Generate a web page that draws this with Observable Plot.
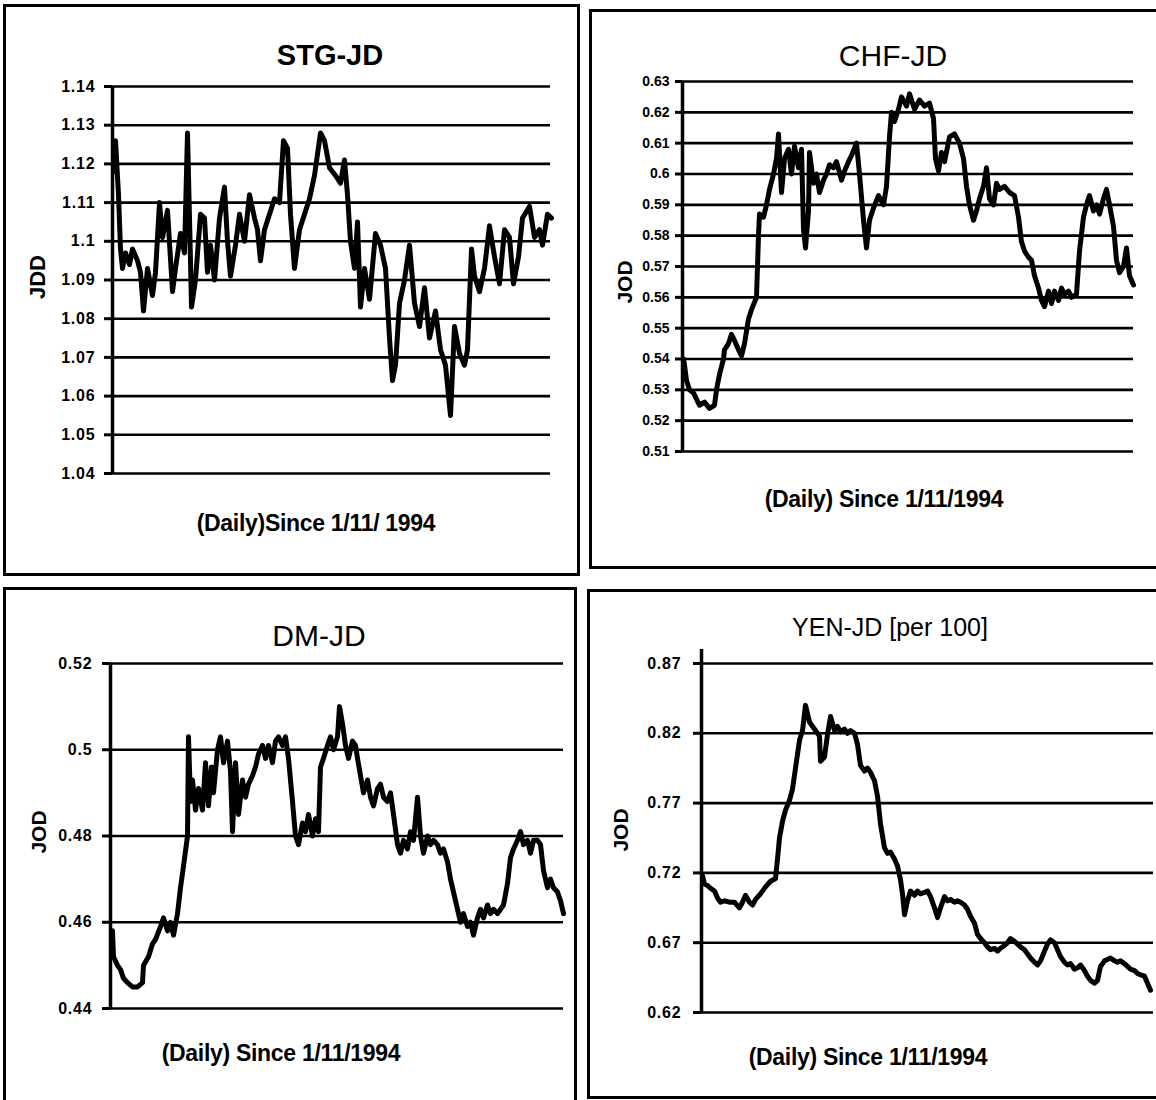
<!DOCTYPE html>
<html><head><meta charset="utf-8">
<script src="https://cdn.jsdelivr.net/npm/d3@7"></script>
<script src="https://cdn.jsdelivr.net/npm/@observablehq/plot@0.6"></script>
<style>
html,body{margin:0;padding:0;background:#fff;}
body{width:1156px;height:1100px;position:relative;overflow:hidden;font-family:"Liberation Sans",Arial,sans-serif;color:#000;}
.panel{position:absolute;border:3px solid #000;box-sizing:border-box;}
.t{position:absolute;white-space:nowrap;transform:translate(-50%,-50%);line-height:1;}
.yl{position:absolute;white-space:nowrap;transform:translate(-50%,-50%) rotate(-90deg);line-height:1;font-weight:bold;}
svg{position:absolute;overflow:visible;}
</style></head><body>
<script>
// ---------- data ----------
const stgDay=[2,3,6,8,10,13,17,20,25,28,31,35,40,43,47,50,55,60,63,68,72,75,78,79,83,88,92,95,98,102,107,112,115,118,123,127,132,137,142,145,148,152,157,162,167,171,175,178,182,187,192,197,202,208,212,217,223,228,232,235,238,242,245,248,252,257,263,268,273,277,280,283,287,292,297,302,307,312,317,323,328,333,338,342,347,352,355,359,362,367,372,377,382,387,392,397,401,406,410,417,422,427,430,435,439];
const stgJD=[1.118,1.126,1.112,1.098,1.093,1.097,1.094,1.098,1.095,1.092,1.082,1.093,1.086,1.092,1.110,1.101,1.108,1.087,1.093,1.102,1.097,1.128,1.095,1.083,1.090,1.107,1.106,1.092,1.099,1.090,1.106,1.114,1.100,1.091,1.099,1.107,1.100,1.112,1.106,1.103,1.095,1.103,1.107,1.111,1.110,1.126,1.124,1.107,1.093,1.103,1.107,1.111,1.117,1.128,1.126,1.119,1.117,1.115,1.121,1.112,1.100,1.093,1.105,1.083,1.093,1.085,1.102,1.099,1.093,1.075,1.064,1.068,1.084,1.090,1.099,1.084,1.078,1.088,1.075,1.082,1.072,1.068,1.055,1.078,1.071,1.068,1.072,1.098,1.091,1.087,1.093,1.104,1.096,1.089,1.103,1.101,1.089,1.096,1.106,1.109,1.101,1.103,1.099,1.107,1.106];
const stgTicks=[1.04,1.05,1.06,1.07,1.08,1.09,1.10,1.11,1.12,1.13,1.14];
const stgLabels=["1.04","1.05","1.06","1.07","1.08","1.09","1.1","1.11","1.12","1.13","1.14"];

const chfDay=[1,2,4,7,11,14,17,22,27,32,34,37,41,42,46,49,52,56,59,62,66,69,74,76,77,81,84,87,91,94,96,99,102,106,109,112,116,119,121,123,126,127,131,134,137,141,144,147,151,154,159,162,166,169,174,177,181,184,187,191,196,201,204,207,209,212,216,219,224,227,232,237,242,247,251,253,256,259,262,267,272,277,281,284,287,291,294,297,301,304,307,311,314,317,322,327,332,336,339,342,346,349,352,356,359,362,366,369,372,376,379,382,386,389,394,397,401,404,407,411,414,417,421,424,427,431,434,437,441,444,447,451];
const chfJD=[0.540,0.538,0.533,0.530,0.529,0.527,0.525,0.526,0.524,0.525,0.530,0.535,0.540,0.543,0.545,0.548,0.546,0.543,0.541,0.545,0.553,0.556,0.560,0.580,0.587,0.586,0.590,0.595,0.600,0.605,0.613,0.594,0.605,0.608,0.600,0.609,0.602,0.608,0.582,0.576,0.588,0.607,0.597,0.600,0.594,0.598,0.600,0.603,0.602,0.604,0.598,0.601,0.604,0.606,0.610,0.600,0.585,0.576,0.585,0.589,0.593,0.590,0.596,0.612,0.620,0.617,0.621,0.625,0.622,0.626,0.621,0.624,0.622,0.623,0.618,0.605,0.601,0.607,0.604,0.612,0.613,0.610,0.605,0.596,0.590,0.585,0.588,0.592,0.596,0.602,0.592,0.590,0.597,0.595,0.596,0.594,0.593,0.586,0.578,0.575,0.573,0.572,0.567,0.563,0.559,0.557,0.562,0.558,0.562,0.559,0.563,0.561,0.562,0.560,0.561,0.575,0.586,0.590,0.593,0.588,0.590,0.587,0.592,0.595,0.590,0.583,0.572,0.568,0.570,0.576,0.567,0.564];
const chfTicks=[0.51,0.52,0.53,0.54,0.55,0.56,0.57,0.58,0.59,0.60,0.61,0.62,0.63];
const chfLabels=["0.51","0.52","0.53","0.54","0.55","0.56","0.57","0.58","0.59","0.6","0.61","0.62","0.63"];

const dmDay=[2,3,7,10,13,17,22,27,32,33,38,42,45,50,53,57,60,63,67,70,73,77,78,80,82,85,88,92,95,98,101,103,107,110,113,117,120,122,125,128,132,135,138,142,145,148,152,155,158,162,165,168,172,175,178,182,185,188,192,195,198,202,205,208,210,213,217,220,223,227,229,232,235,238,242,245,247,250,253,257,260,263,267,270,273,277,280,283,287,290,293,297,300,303,307,310,313,317,320,323,327,330,333,337,340,343,347,350,353,357,360,363,367,370,373,377,380,383,387,390,393,397,400,403,407,410,413,417,420,423,427,430,433,437,440,443,447,450,453];
const dmJD=[0.458,0.452,0.450,0.449,0.447,0.446,0.445,0.445,0.446,0.450,0.452,0.455,0.456,0.459,0.461,0.458,0.460,0.457,0.462,0.468,0.473,0.480,0.503,0.488,0.493,0.486,0.491,0.486,0.497,0.487,0.496,0.490,0.500,0.503,0.497,0.502,0.495,0.481,0.497,0.485,0.493,0.489,0.492,0.494,0.496,0.499,0.501,0.498,0.501,0.497,0.502,0.503,0.501,0.503,0.498,0.488,0.480,0.478,0.483,0.481,0.485,0.480,0.484,0.481,0.496,0.498,0.501,0.503,0.500,0.503,0.510,0.506,0.501,0.498,0.502,0.501,0.498,0.494,0.490,0.493,0.489,0.487,0.491,0.492,0.489,0.488,0.490,0.485,0.478,0.476,0.479,0.477,0.481,0.479,0.489,0.480,0.476,0.480,0.478,0.479,0.478,0.476,0.477,0.474,0.470,0.467,0.463,0.460,0.462,0.459,0.460,0.457,0.461,0.463,0.461,0.464,0.462,0.463,0.462,0.463,0.464,0.469,0.475,0.477,0.479,0.481,0.478,0.479,0.476,0.479,0.479,0.478,0.472,0.468,0.470,0.468,0.467,0.465,0.462];
const dmTicks=[0.44,0.46,0.48,0.50,0.52];
const dmLabels=["0.44","0.46","0.48","0.5","0.52"];

const yenDay=[1,3,6,9,13,16,19,23,28,33,38,41,44,48,51,54,59,64,69,74,76,78,81,84,88,91,94,98,101,104,108,111,114,118,119,123,126,129,133,136,139,143,146,149,153,156,159,163,166,169,173,176,179,183,186,189,193,196,199,201,203,206,209,213,216,219,223,226,229,233,236,239,243,246,249,253,256,259,263,266,269,273,276,279,283,286,289,293,296,299,303,306,309,313,316,319,323,326,329,333,336,339,343,346,349,353,356,359,363,366,369,373,376,379,383,386,389,393,396,399,403,406,409,413,416,419,423,426,429,433,436,439,443,446,449];
const yenJD=[0.718,0.712,0.711,0.709,0.707,0.702,0.699,0.700,0.699,0.699,0.695,0.699,0.704,0.699,0.697,0.701,0.705,0.710,0.714,0.716,0.730,0.745,0.757,0.765,0.772,0.780,0.795,0.815,0.822,0.840,0.828,0.825,0.822,0.818,0.800,0.803,0.819,0.832,0.822,0.825,0.821,0.823,0.820,0.822,0.820,0.812,0.797,0.793,0.795,0.792,0.786,0.775,0.755,0.738,0.734,0.735,0.730,0.725,0.715,0.705,0.690,0.700,0.707,0.704,0.707,0.705,0.706,0.707,0.703,0.695,0.688,0.695,0.703,0.700,0.701,0.699,0.700,0.699,0.697,0.694,0.689,0.684,0.676,0.673,0.670,0.667,0.665,0.666,0.664,0.666,0.668,0.670,0.673,0.671,0.669,0.667,0.665,0.662,0.659,0.656,0.654,0.657,0.664,0.669,0.672,0.670,0.665,0.660,0.656,0.654,0.655,0.651,0.652,0.654,0.650,0.646,0.643,0.641,0.643,0.653,0.657,0.658,0.659,0.657,0.656,0.657,0.655,0.653,0.651,0.650,0.648,0.647,0.646,0.641,0.636];
const yenTicks=[0.62,0.67,0.72,0.77,0.82,0.87];
const yenLabels=["0.62","0.67","0.72","0.77","0.82","0.87"];

// ---------- layout helpers ----------
const body=document.body;
function box(l,t,w,h){const d=document.createElement("div");d.className="panel";Object.assign(d.style,{left:l+"px",top:t+"px",width:w+"px",height:h+"px"});body.appendChild(d);}
function txt(cls,s,x,y,css){const d=document.createElement("div");d.className=cls;d.textContent=s;Object.assign(d.style,{left:x+"px",top:y+"px"},css||{});body.appendChild(d);}

function chart(c){
  const data=c.days.map((d,i)=>({d,v:c.vals[i]}));
  const fmt=v=>c.labels[c.ticks.indexOf(v)];
  const y0=c.ticks[0], y1=c.ticks[c.ticks.length-1];
  const svg=Plot.plot({
    width:c.w,height:c.h,
    marginLeft:c.mL,marginRight:c.mR,marginTop:c.mT,marginBottom:c.mB,
    style:{background:"transparent",color:"#000",fontFamily:"'Liberation Sans',Arial,sans-serif",overflow:"visible"},
    x:{domain:[0,c.xMax],axis:null},
    y:{domain:[y0,y1],axis:null},
    marks:[
      Plot.ruleY(c.ticks,{x1:0,x2:c.xMax,stroke:"#000",strokeWidth:2.6}),
      Plot.axisY(c.ticks,{tickFormat:fmt,tickSize:c.tickSize,tickPadding:c.tickPad,stroke:"#000",strokeWidth:3,fontSize:c.fs,fontWeight:"bold",fill:"#000",label:null}),
      Plot.ruleX([0],{y1:y0,y2:c.axisTop??y1,stroke:"#000",strokeWidth:3.5}),
      Plot.line(data,{x:"d",y:"v",stroke:"#000",strokeWidth:5,strokeLinejoin:"round",strokeLinecap:"round"})
    ]
  });
  svg.style.left=c.left+"px";svg.style.top=c.top+"px";
  svg.querySelectorAll("text").forEach(t=>t.setAttribute("letter-spacing",c.ls||0));
  body.appendChild(svg);
}

// panel frames
box(3,4,577,572);
box(589,9,600,560);
box(3,587,574,560);
box(587,589,600,510);

// STG-JD
chart({days:stgDay,vals:stgJD,ticks:stgTicks,labels:stgLabels,xMax:438,left:0,top:0,w:580,h:580,mL:112,mR:30,mT:86,mB:107,tickSize:8,tickPad:9,fs:16,ls:0.8});
txt("t","STG-JD",330,55,{fontSize:"29px",fontWeight:"bold"});
txt("t","(Daily)Since 1/11/ 1994",316,523,{fontSize:"23px",fontWeight:"bold",letterSpacing:"-0.3px"});
txt("yl","JDD",38,277,{fontSize:"22px"});

// CHF-JD
chart({days:chfDay,vals:chfJD,ticks:chfTicks,labels:chfLabels,xMax:451,left:580,top:0,w:576,h:580,mL:102,mR:23,mT:81,mB:129,tickSize:7,tickPad:6,fs:14,ls:0});
txt("t","CHF-JD",893,56,{fontSize:"30px"});
txt("t","(Daily) Since 1/11/1994",884,499,{fontSize:"23px",fontWeight:"bold",letterSpacing:"-0.3px"});
txt("yl","JOD",624,282,{fontSize:"21px"});

// DM-JD
chart({days:dmDay,vals:dmJD,ticks:dmTicks,labels:dmLabels,xMax:453,left:0,top:580,w:580,h:520,mL:110,mR:17,mT:83,mB:92,tickSize:8,tickPad:10,fs:16,ls:0.8});
txt("t","DM-JD",319,636,{fontSize:"30px"});
txt("t","(Daily) Since 1/11/1994",281,1053,{fontSize:"23px",fontWeight:"bold",letterSpacing:"-0.3px"});
txt("yl","JOD",38,832,{fontSize:"21px"});

// YEN-JD
chart({days:yenDay,vals:yenJD,ticks:yenTicks,labels:yenLabels,xMax:452,left:580,top:580,w:576,h:520,mL:121,mR:3,mT:83,mB:88,tickSize:8,tickPad:12,fs:16,ls:0.8,axisTop:0.88});
txt("t","YEN-JD [per 100]",890,627,{fontSize:"25px"});
txt("t","(Daily) Since 1/11/1994",868,1057,{fontSize:"23px",fontWeight:"bold",letterSpacing:"-0.3px"});
txt("yl","JOD",620,830,{fontSize:"21px"});
</script>
</body></html>
